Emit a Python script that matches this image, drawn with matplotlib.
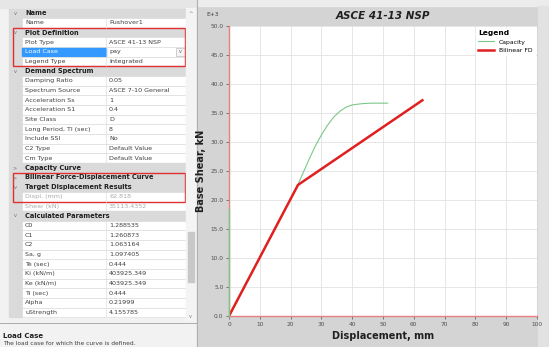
import matplotlib.pyplot as plt
from matplotlib.patches import Rectangle

# pushover chart data (E+3 kN)
cap_disp = [0, 10, 20, 22.5, 24, 26, 28, 30, 32, 34, 36, 38, 40, 43, 46, 51.5]
cap_shear = [0, 10.1, 20.2, 22.8, 24.6, 27.0, 29.3, 31.2, 32.9, 34.3, 35.3, 36.0, 36.4, 36.6, 36.7, 36.7]
bil_disp = [0, 22.4, 62.8]
bil_shear = [0, 22.6, 37.2]
yaxis_green = [0, 18.5]

x_ticks = [0, 10, 20, 30, 40, 50, 60, 70, 80, 90, 100]
y_ticks = [0, 5, 10, 15, 20, 25, 30, 35, 40, 45, 50]

# property grid: (kind, label, value)
grid_rows = [
    ("h", "Name", ""),
    ("r", "Name", "Pushover1"),
    ("h", "Plot Definition", ""),
    ("r", "Plot Type", "ASCE 41-13 NSP"),
    ("sel", "Load Case", "pay"),
    ("r", "Legend Type", "Integrated"),
    ("h", "Demand Spectrum", ""),
    ("r", "Damping Ratio", "0.05"),
    ("r", "Spectrum Source", "ASCE 7-10 General"),
    ("r", "Acceleration Ss", "1"),
    ("r", "Acceleration S1", "0.4"),
    ("r", "Site Class", "D"),
    ("r", "Long Period, Tl (sec)", "8"),
    ("r", "Include SSI", "No"),
    ("r", "C2 Type", "Default Value"),
    ("r", "Cm Type", "Default Value"),
    ("hc", "Capacity Curve", ""),
    ("hc", "Bilinear Force-Displacement Curve", ""),
    ("h", "Target Displacement Results", ""),
    ("dis", "Displ. (mm)", "62.818"),
    ("dis", "Shear (kN)", "35113.4352"),
    ("h", "Calculated Parameters", ""),
    ("r", "C0", "1.288535"),
    ("r", "C1", "1.260873"),
    ("r", "C2", "1.063164"),
    ("r", "Sa, g", "1.097405"),
    ("r", "Te (sec)", "0.444"),
    ("r", "Ki (kN/m)", "403925.349"),
    ("r", "Ke (kN/m)", "403925.349"),
    ("r", "Ti (sec)", "0.444"),
    ("r", "Alpha", "0.21999"),
    ("r", "uStrength", "4.155785"),
]

fig = plt.figure(figsize=(5.49, 3.47), dpi=100)

# background layer in pixel coords
ui = fig.add_axes([0, 0, 1, 1])
ui.set_xlim(0, 549)
ui.set_ylim(347, 0)
ui.axis("off")

# left panel
ui.add_patch(Rectangle((0, 0), 197, 347, color="#f2f2f2"))
ui.add_patch(Rectangle((0, 0), 197, 8, color="#e6e6e6"))
top = 8.5
rh = 9.65
for i, (kind, label, value) in enumerate(grid_rows):
    y = top + rh * i
    yc = y + rh / 2
    if kind in ("h", "hc"):
        ui.add_patch(Rectangle((9, y), 177, rh, color="#dadada"))
        arrow = "v" if kind == "h" else ">"
        ui.text(15, yc, arrow, fontsize=3.6, color="#707070", ha="center", va="center")
        ui.text(25, yc, label, fontsize=4.8, fontweight="bold", color="#202020", va="center")
    else:
        ui.add_patch(Rectangle((9, y), 13, rh, color="#dadada"))
        ui.add_patch(Rectangle((22, y), 164, rh, facecolor="white", edgecolor="#d8d8d8", lw=0.4))
        ui.plot([106, 106], [y, y + rh], color="#d8d8d8", lw=0.4)
        tcol = "#aaaaaa" if kind == "dis" else "#404040"
        if kind == "sel":
            ui.add_patch(Rectangle((22, y + 0.5), 84, rh - 1, color="#3399ff"))
            ui.text(25, yc, label, fontsize=4.6, color="white", va="center")
            ui.add_patch(Rectangle((176, y + 1), 9, rh - 2, facecolor="#f4f4f4", edgecolor="#b0b0b0", lw=0.4))
            ui.text(180.5, yc, "v", fontsize=3.4, color="#606060", ha="center", va="center")
        else:
            ui.text(25, yc, label, fontsize=4.6, color=tcol, va="center")
        ui.text(109, yc, value, fontsize=4.6, color=tcol, va="center")

# red highlight boxes
ui.add_patch(Rectangle((13, top + rh * 2), 172, rh * 4, fill=False, edgecolor="#e03030", lw=1.0))
ui.add_patch(Rectangle((13, top + rh * 17), 172, rh * 3, fill=False, edgecolor="#e03030", lw=1.0))

# scrollbar
ui.add_patch(Rectangle((186, 8), 10, 312, color="#f4f4f4"))
ui.add_patch(Rectangle((187.5, 232), 6, 50, color="#c8c8c8"))
ui.text(190.5, 13, "^", fontsize=4, color="#808080", ha="center", va="center")
ui.text(190.5, 316, "v", fontsize=3.6, color="#808080", ha="center", va="center")

# description pane
ui.plot([0, 197], [323, 323], color="#a0a0a0", lw=0.6)
ui.text(3, 335.5, "Load Case", fontsize=5, fontweight="bold", color="#202020", va="center")
ui.text(3, 343.5, "The load case for which the curve is defined.", fontsize=4.2, color="#404040", va="center")

# chart panel
ui.add_patch(Rectangle((197, 0), 352, 347, color="#d4d4d4"))
ui.add_patch(Rectangle((197, 0), 352, 6, color="#ececec"))
ui.plot([197, 197], [0, 347], color="#b0b0b0", lw=0.8)
ui.add_patch(Rectangle((538, 6), 11, 341, color="#e2e2e2"))
ui.text(213, 14, "E+3", fontsize=4.2, color="#404040", ha="center", va="center")
ui.text(383, 16, "ASCE 41-13 NSP", fontsize=7.5, fontweight="bold", fontstyle="italic",
        color="#202020", ha="center", va="center")

# main chart
ax = fig.add_axes([229 / 549, (347 - 316) / 347, (537 - 229) / 549, (316 - 26) / 347])
ax.set_facecolor("white")
ax.plot(cap_disp, cap_shear, color="#7cc88a", lw=0.8, label="Capacity", zorder=3)
ax.plot(bil_disp, bil_shear, color="#e02020", lw=1.8, label="Bilinear FD", zorder=4)
ax.plot([0, 0], yaxis_green, color="#7cc88a", lw=1.0, zorder=5, clip_on=False)
ax.set_xlim(0, 100)
ax.set_ylim(0, 50)
ax.set_xticks(x_ticks)
ax.set_yticks(y_ticks)
ax.set_xticklabels([str(t) for t in x_ticks])
ax.set_yticklabels(["%.1f" % t for t in y_ticks])
ax.tick_params(labelsize=4.2, colors="#505050", length=2, width=0.5, pad=2)
ax.grid(True, color="#e2e2e2", lw=0.6)
ax.set_axisbelow(True)
for s in ["top", "right"]:
    ax.spines[s].set_visible(False)
ax.spines["left"].set_color("#e88080")
ax.spines["bottom"].set_color("#e88080")
ax.spines["left"].set_linewidth(1.0)
ax.spines["bottom"].set_linewidth(1.0)
ax.set_xlabel("Displacement, mm", fontsize=7, fontweight="bold", color="#202020", labelpad=3)
ax.set_ylabel("Base Shear, kN", fontsize=7, fontweight="bold", color="#202020", labelpad=3)

leg = ax.legend(loc="upper right", fontsize=4.4, title="Legend", frameon=True, fancybox=False,
                edgecolor="white", facecolor="white", framealpha=1, handlelength=2.6,
                borderaxespad=0.3)
leg.get_title().set_fontsize(5.4)
leg.get_title().set_fontweight("bold")
leg._legend_box.align = "left"

fig.savefig("out.png", dpi=100)
